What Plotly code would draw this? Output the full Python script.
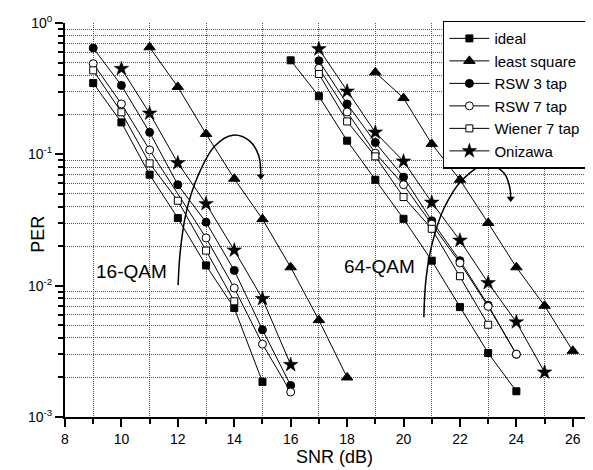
import math
import plotly.graph_objects as go

# ---- data ----
snr16_ideal = [9, 10, 11, 12, 13, 14, 15]
per16_ideal = [0.349, 0.175, 0.070, 0.0327, 0.01426, 0.00675, 0.00185]
snr64_ideal = [16, 17, 18, 19, 20, 21, 22, 23, 24]
per64_ideal = [0.52, 0.277, 0.127, 0.064, 0.0323, 0.0155, 0.00687, 0.00307, 0.00157]

snr16_ls = [11, 12, 13, 14, 15, 16, 17, 18]
per16_ls = [0.653, 0.326, 0.143, 0.0652, 0.0321, 0.0138, 0.00547, 0.0020]
snr64_ls = [19, 20, 21, 22, 23, 24, 25, 26]
per64_ls = [0.421, 0.268, 0.120, 0.064, 0.030, 0.0138, 0.00703, 0.00319]

snr16_rsw3 = [9, 10, 11, 12, 13, 14, 15, 16]
per16_rsw3 = [0.645, 0.335, 0.147, 0.0587, 0.0304, 0.01307, 0.00461, 0.00174]
snr64_rsw3 = [17, 18, 19, 20, 21, 22, 23, 24]
per64_rsw3 = [0.516, 0.242, 0.123, 0.0671, 0.0312, 0.0155, 0.0071, 0.0030]

snr16_rsw7 = [9, 10, 11, 13, 14, 15, 16]
per16_rsw7 = [0.49, 0.242, 0.108, 0.0231, 0.0096, 0.00359, 0.00155]
snr64_rsw7 = [17, 18, 19, 20, 21, 22, 23, 24]
per64_rsw7 = [0.452, 0.21, 0.102, 0.0587, 0.0294, 0.0149, 0.00695, 0.00301]

snr16_wiener = [9, 10, 11, 12, 13, 14]
per16_wiener = [0.436, 0.209, 0.0853, 0.0443, 0.0185, 0.0076]
snr64_wiener = [17, 18, 19, 20, 21, 22, 23]
per64_wiener = [0.409, 0.178, 0.0965, 0.0473, 0.0271, 0.0118, 0.00504]

snr16_oni = [10, 11, 12, 13, 14, 15, 16]
per16_oni = [0.449, 0.205, 0.0859, 0.042, 0.0186, 0.00795, 0.0025]
snr64_oni = [17, 18, 19, 20, 21, 22, 23, 24, 25]
per64_oni = [0.634, 0.302, 0.147, 0.0885, 0.043, 0.0221, 0.0105, 0.00528, 0.00219]

series_names = ["ideal", "least square", "RSW 3 tap", "RSW 7 tap", "Wiener 7 tap", "Onizawa"]

# arc annotations (16-QAM and 64-QAM labels)
arc16_snr = [12.01, 12.08, 12.29, 12.71, 13.31, 13.95, 14.55, 14.87, 14.94]
arc16_per = [0.0101, 0.0177, 0.0357, 0.0684, 0.1157, 0.140, 0.126, 0.097, 0.068]
arc64_snr = [20.72, 20.80, 21.02, 21.44, 22.08, 22.96, 23.56, 23.77, 23.80]
arc64_per = [0.00575, 0.0114, 0.0211, 0.039, 0.0637, 0.0844, 0.0721, 0.0554, 0.046]

x_ticks = [8, 10, 12, 14, 16, 18, 20, 22, 24, 26]
y_ticks = [1e-3, 1e-2, 1e-1, 1]
y_ticktext = ["10<sup>-3</sup>", "10<sup>-2</sup>", "10<sup>-1</sup>", "10<sup>0</sup>"]

FONT = "Liberation Sans, Arial, sans-serif"

def join(xa, ya, xb, yb):
    return xa + [None] + xb, ya + [None] + yb

styles = [
    dict(symbol="square", size=7, color="black", line=dict(color="black", width=1)),
    dict(symbol="triangle-up", size=10, color="black", line=dict(color="black", width=1)),
    dict(symbol="circle", size=8, color="black", line=dict(color="black", width=1)),
    dict(symbol="circle", size=8, color="white", line=dict(color="black", width=1)),
    dict(symbol="square", size=7, color="white", line=dict(color="black", width=1)),
    dict(symbol="star", size=11, color="black", line=dict(color="black", width=0.5)),
]

data_pairs = [
    join(snr16_ideal, per16_ideal, snr64_ideal, per64_ideal),
    join(snr16_ls, per16_ls, snr64_ls, per64_ls),
    join(snr16_rsw3, per16_rsw3, snr64_rsw3, per64_rsw3),
    join(snr16_rsw7, per16_rsw7, snr64_rsw7, per64_rsw7),
    join(snr16_wiener, per16_wiener, snr64_wiener, per64_wiener),
    join(snr16_oni, per16_oni, snr64_oni, per64_oni),
]

fig = go.Figure()

for (xs, ys), name, mk in zip(data_pairs, series_names, styles):
    fig.add_trace(go.Scatter(
        x=xs, y=ys, name=name, mode="lines+markers",
        line=dict(color="black", width=1), marker=mk, connectgaps=False,
    ))

for ax_, ay_ in [(arc16_snr, arc16_per), (arc64_snr, arc64_per)]:
    fig.add_trace(go.Scatter(
        x=ax_, y=ay_, mode="lines", line=dict(color="black", width=1.5, shape="spline"),
        showlegend=False, hoverinfo="skip",
    ))
    # arrow head at the end of each arc
    fig.add_trace(go.Scatter(
        x=[ax_[-1]], y=[ay_[-1]], mode="markers",
        marker=dict(symbol="triangle-down", size=7, color="black"),
        showlegend=False, hoverinfo="skip",
    ))

annotations = []
annotations.append(dict(x=10.35, y=math.log10(0.0129), xref="x", yref="y", text="16-QAM",
                        showarrow=False, font=dict(family=FONT, size=19, color="black")))
annotations.append(dict(x=19.15, y=math.log10(0.0141), xref="x", yref="y", text="64-QAM",
                        showarrow=False, font=dict(family=FONT, size=19, color="black")))
annotations.append(dict(x=-0.073, y=0.465, xref="paper", yref="paper", text="PER", textangle=-90,
                        showarrow=False, font=dict(family=FONT, size=18, color="black")))
annotations.append(dict(x=0.502, y=-0.132, xref="paper", yref="paper", text="SNR (dB)",
                        showarrow=False, font=dict(family=FONT, size=18, color="black")))

y_minor = [m * 10.0 ** e for e in range(-3, 0) for m in range(2, 10)]

grid_style = dict(showgrid=True, gridcolor="#555555", griddash="1px,1px", gridwidth=1)

fig.update_layout(
    width=593, height=470,
    margin=dict(l=57, r=0, t=15, b=61),
    paper_bgcolor="white", plot_bgcolor="white",
    font=dict(family=FONT, size=14, color="black"),
    showlegend=True,
    legend=dict(
        x=0.705, y=1.006, xanchor="left", yanchor="top",
        bordercolor="black", borderwidth=1.5, bgcolor="white",
        font=dict(family=FONT, size=15, color="black"),
        itemwidth=40, tracegroupgap=0,
    ),
    annotations=annotations,
    xaxis=dict(
        range=[8, 27], tickmode="array", tickvals=x_ticks,
        showgrid=False, zeroline=False,
        showline=True, linecolor="black", linewidth=2,
        ticks="outside", ticklen=8, tickwidth=1.5, tickcolor="black",
        tickfont=dict(family=FONT, size=14, color="black"),
        minor=dict(tick0=9, dtick=2, ticks="outside", ticklen=5, tickwidth=1.5,
                   tickcolor="black", **grid_style),
    ),
    yaxis=dict(
        type="log", range=[-3, 0], tickmode="array", tickvals=y_ticks, ticktext=y_ticktext,
        showgrid=False, zeroline=False,
        showline=True, linecolor="black", linewidth=2,
        ticks="outside", ticklen=8, tickwidth=1.5, tickcolor="black",
        tickfont=dict(family=FONT, size=14, color="black"),
        minor=dict(tickmode="array", tickvals=y_minor, ticks="outside", ticklen=5,
                   tickwidth=1.5, tickcolor="black", **grid_style),
    ),
)

fig.write_html("out.html")
